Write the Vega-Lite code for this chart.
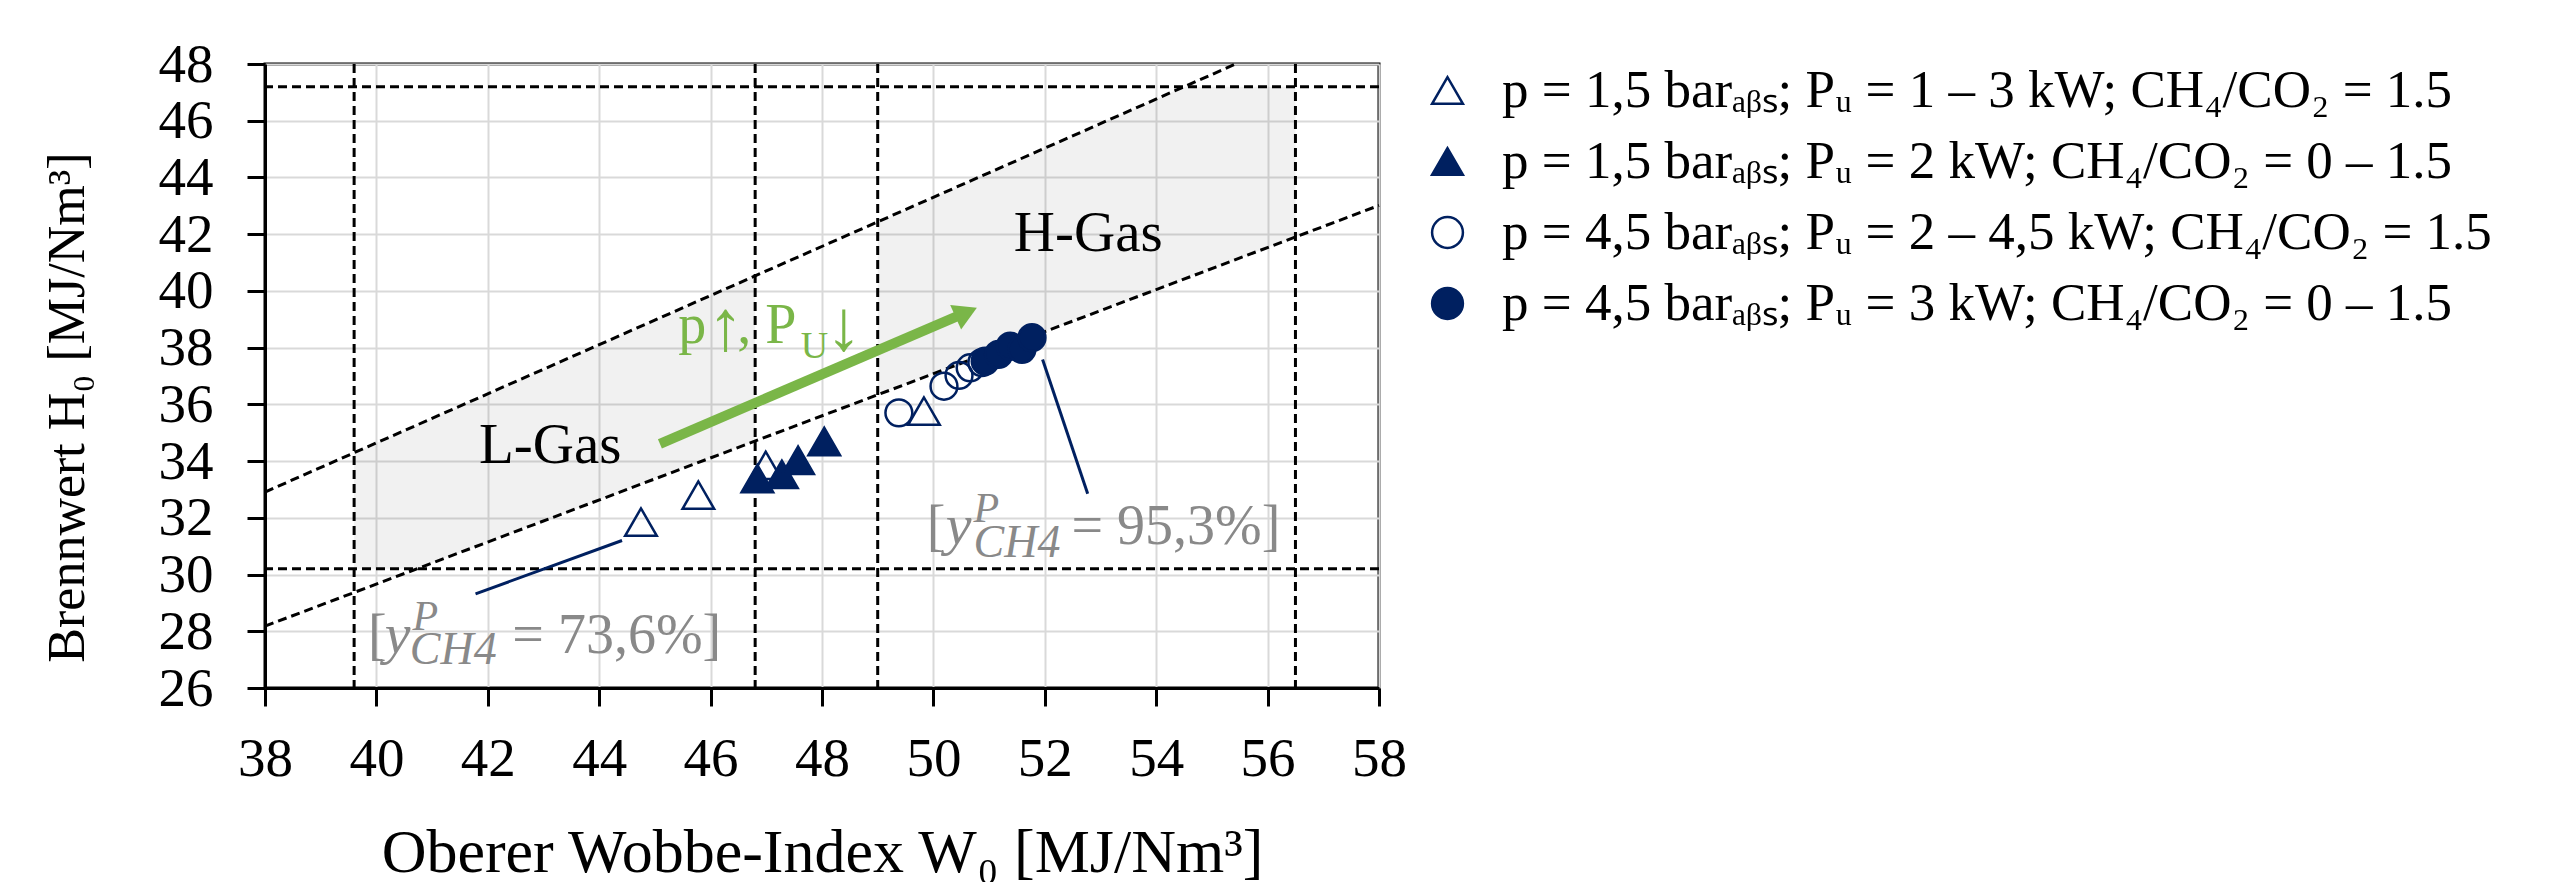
{
  "$schema": "https://vega.github.io/schema/vega-lite/v6.json",
  "width": 1114,
  "height": 624,
  "autosize": {"type": "none"},
  "padding": {"left": 265, "top": 64, "right": 1189, "bottom": 194},
  "background": "white",
  "config": {
    "view": {"stroke": "black", "strokeWidth": 3},
    "font": "Liberation Serif",
    "axis": {"labelFont": "Liberation Serif", "titleFont": "Liberation Serif", "labelColor": "black", "titleColor": "black", "titleFontWeight": "normal", "domainColor": "black", "domainWidth": 3, "tickColor": "black", "tickWidth": 3, "tickSize": 18, "gridColor": "#d9d9d9", "gridWidth": 2, "labelFlush": false, "labelOverlap": false},
    "axisX": {"tickCount": 10, "labelFontSize": 55, "labelPadding": 26, "titleFontSize": 62, "titlePadding": 36},
    "axisY": {"tickCount": 11, "labelFontSize": 55, "labelPadding": 34, "titleFontSize": 52, "titlePadding": 64, "titleY": 343},
    "legend": {"orient": "right", "offset": 42, "padding": 0, "labelFont": "Liberation Serif", "labelFontSize": 53, "labelColor": "black", "labelLimit": 0, "labelOffset": 28, "rowPadding": 17, "symbolSize": 950, "symbolStrokeWidth": 2.5}
  },
  "datasets": {
    "zones": [
      {"zone": "L", "W": 39.6, "H": 30.2, "H2": 34.29},
      {"zone": "L", "W": 40.72, "H": 30.2, "H2": 35.26},
      {"zone": "L", "W": 46.8, "H": 34.71, "H2": 40.53},
      {"zone": "H", "W": 49.0, "H": 36.34, "H2": 42.43},
      {"zone": "H", "W": 54.5, "H": 40.42, "H2": 47.2},
      {"zone": "H", "W": 56.5, "H": 41.9, "H2": 47.2}
    ],
    "vlines": [{"W": 39.6}, {"W": 46.8}, {"W": 49.0}, {"W": 56.5}],
    "hlines": [{"H": 30.2}, {"H": 47.2}],
    "diag": [
      {"W": 38, "H": 32.909, "W2": 55.426, "H2": 48},
      {"W": 38, "H": 28.181, "W2": 58, "H2": 43.013}
    ],
    "leaders": [
      {"W": 41.78, "H": 29.32, "W2": 44.41, "H2": 31.2},
      {"W": 51.96, "H": 37.58, "W2": 52.77, "H2": 32.85}
    ],
    "arrow": [{"W": 45.09, "H": 34.61, "W2": 50.59, "H2": 39.24}],
    "arrowhead": [{"W": 50.59, "H": 39.24}],
    "points": [
      {"series": "p = 1,5 barₐᵦₛ; Pᵤ = 1 – 3 kW; CH₄/CO₂ = 1.5", "W": 44.75, "H": 31.85},
      {"series": "p = 1,5 barₐᵦₛ; Pᵤ = 1 – 3 kW; CH₄/CO₂ = 1.5", "W": 45.78, "H": 32.8},
      {"series": "p = 1,5 barₐᵦₛ; Pᵤ = 1 – 3 kW; CH₄/CO₂ = 1.5", "W": 46.99, "H": 33.85},
      {"series": "p = 1,5 barₐᵦₛ; Pᵤ = 1 – 3 kW; CH₄/CO₂ = 1.5", "W": 49.83, "H": 35.76},
      {"series": "p = 1,5 barₐᵦₛ; Pᵤ = 2 kW; CH₄/CO₂ = 0 – 1.5", "W": 46.84, "H": 33.38},
      {"series": "p = 1,5 barₐᵦₛ; Pᵤ = 2 kW; CH₄/CO₂ = 0 – 1.5", "W": 47.28, "H": 33.53},
      {"series": "p = 1,5 barₐᵦₛ; Pᵤ = 2 kW; CH₄/CO₂ = 0 – 1.5", "W": 47.57, "H": 34.03},
      {"series": "p = 1,5 barₐᵦₛ; Pᵤ = 2 kW; CH₄/CO₂ = 0 – 1.5", "W": 48.04, "H": 34.69},
      {"series": "p = 4,5 barₐᵦₛ; Pᵤ = 2 – 4,5 kW; CH₄/CO₂ = 1.5", "W": 49.38, "H": 35.7},
      {"series": "p = 4,5 barₐᵦₛ; Pᵤ = 2 – 4,5 kW; CH₄/CO₂ = 1.5", "W": 50.19, "H": 36.64},
      {"series": "p = 4,5 barₐᵦₛ; Pᵤ = 2 – 4,5 kW; CH₄/CO₂ = 1.5", "W": 50.46, "H": 37.02},
      {"series": "p = 4,5 barₐᵦₛ; Pᵤ = 2 – 4,5 kW; CH₄/CO₂ = 1.5", "W": 50.66, "H": 37.29},
      {"series": "p = 4,5 barₐᵦₛ; Pᵤ = 2 – 4,5 kW; CH₄/CO₂ = 1.5", "W": 50.87, "H": 37.47},
      {"series": "p = 4,5 barₐᵦₛ; Pᵤ = 3 kW; CH₄/CO₂ = 0 – 1.5", "W": 50.93, "H": 37.52},
      {"series": "p = 4,5 barₐᵦₛ; Pᵤ = 3 kW; CH₄/CO₂ = 0 – 1.5", "W": 51.17, "H": 37.76},
      {"series": "p = 4,5 barₐᵦₛ; Pᵤ = 3 kW; CH₄/CO₂ = 0 – 1.5", "W": 51.38, "H": 38.05},
      {"series": "p = 4,5 barₐᵦₛ; Pᵤ = 3 kW; CH₄/CO₂ = 0 – 1.5", "W": 51.59, "H": 37.94},
      {"series": "p = 4,5 barₐᵦₛ; Pᵤ = 3 kW; CH₄/CO₂ = 0 – 1.5", "W": 51.77, "H": 38.35}
    ],
    "gasLabels": [
      {"W": 43.12, "H": 33.92, "t": "L-Gas"},
      {"W": 52.78, "H": 41.41, "t": "H-Gas"}
    ],
    "greenMain": [
      {"W": 45.42, "H": 38.15, "t": "p"},
      {"W": 46.48, "H": 38.15, "t": ", P"}
    ],
    "greenArrows": [
      {"W": 45.95, "H": 37.9, "t": "↑"},
      {"W": 48.07, "H": 37.9, "t": "↓"}
    ],
    "greenSub": [{"W": 47.62, "H": 37.65, "t": "U"}],
    "grayUpright": [
      {"W": 39.85, "H": 27.25, "t": "["},
      {"W": 42.44, "H": 27.25, "t": "= 73,6%]"},
      {"W": 49.88, "H": 31.06, "t": "["},
      {"W": 52.48, "H": 31.06, "t": "= 95,3%]"}
    ],
    "grayItalic": [
      {"W": 40.15, "H": 27.25, "t": "y"},
      {"W": 50.22, "H": 31.06, "t": "y"}
    ],
    "graySup": [
      {"W": 40.65, "H": 28.06, "t": "P"},
      {"W": 50.72, "H": 31.87, "t": "P"}
    ],
    "graySub": [
      {"W": 40.6, "H": 26.83, "t": "CH4"},
      {"W": 50.72, "H": 30.63, "t": "CH4"}
    ]
  },
  "layer": [
    {
      "data": {"name": "zones"},
      "mark": {"type": "area", "fill": "black", "fillOpacity": 0.055},
      "encoding": {
        "x": {"field": "W", "type": "quantitative", "scale": {"domain": [38, 58], "nice": false, "zero": false}, "title": "Oberer Wobbe-Index W₀ [MJ/Nm³]"},
        "y": {"field": "H", "type": "quantitative", "scale": {"domain": [26, 48], "nice": false, "zero": false}, "title": "Brennwert H₀ [MJ/Nm³]"},
        "y2": {"field": "H2"},
        "detail": {"field": "zone", "type": "nominal"}
      }
    },
    {
      "data": {"name": "vlines"},
      "mark": {"type": "rule", "color": "black", "strokeWidth": 3, "strokeDash": [9, 5]},
      "encoding": {
        "x": {"field": "W", "type": "quantitative", "title": "Oberer Wobbe-Index W₀ [MJ/Nm³]"}
      }
    },
    {
      "data": {"name": "hlines"},
      "mark": {"type": "rule", "color": "black", "strokeWidth": 3, "strokeDash": [9, 5]},
      "encoding": {
        "y": {"field": "H", "type": "quantitative", "title": "Brennwert H₀ [MJ/Nm³]"}
      }
    },
    {
      "data": {"name": "diag"},
      "mark": {"type": "rule", "color": "black", "strokeWidth": 3, "strokeDash": [9, 5]},
      "encoding": {
        "x": {"field": "W", "type": "quantitative", "title": "Oberer Wobbe-Index W₀ [MJ/Nm³]"},
        "y": {"field": "H", "type": "quantitative", "title": "Brennwert H₀ [MJ/Nm³]"},
        "x2": {"field": "W2"},
        "y2": {"field": "H2"}
      }
    },
    {
      "data": {"name": "leaders"},
      "mark": {"type": "rule", "color": "#002060", "strokeWidth": 3},
      "encoding": {
        "x": {"field": "W", "type": "quantitative", "title": "Oberer Wobbe-Index W₀ [MJ/Nm³]"},
        "y": {"field": "H", "type": "quantitative", "title": "Brennwert H₀ [MJ/Nm³]"},
        "x2": {"field": "W2"},
        "y2": {"field": "H2"}
      }
    },
    {
      "data": {"name": "arrow"},
      "mark": {"type": "rule", "color": "#7ab648", "strokeWidth": 10, "strokeCap": "butt"},
      "encoding": {
        "x": {"field": "W", "type": "quantitative", "title": "Oberer Wobbe-Index W₀ [MJ/Nm³]"},
        "y": {"field": "H", "type": "quantitative", "title": "Brennwert H₀ [MJ/Nm³]"},
        "x2": {"field": "W2"},
        "y2": {"field": "H2"}
      }
    },
    {
      "data": {"name": "arrowhead"},
      "mark": {"type": "point", "shape": "triangle-up", "filled": true, "fill": "#7ab648", "strokeWidth": 0, "opacity": 1, "size": 720, "angle": 66},
      "encoding": {
        "x": {"field": "W", "type": "quantitative", "title": "Oberer Wobbe-Index W₀ [MJ/Nm³]"},
        "y": {"field": "H", "type": "quantitative", "title": "Brennwert H₀ [MJ/Nm³]"}
      }
    },
    {
      "data": {"name": "points"},
      "mark": {"type": "point", "filled": true, "strokeWidth": 2.5, "opacity": 1},
      "encoding": {
        "x": {"field": "W", "type": "quantitative", "title": "Oberer Wobbe-Index W₀ [MJ/Nm³]"},
        "y": {"field": "H", "type": "quantitative", "title": "Brennwert H₀ [MJ/Nm³]"},
        "shape": {"field": "series", "type": "nominal", "scale": {"domain": ["p = 1,5 barₐᵦₛ; Pᵤ = 1 – 3 kW; CH₄/CO₂ = 1.5", "p = 1,5 barₐᵦₛ; Pᵤ = 2 kW; CH₄/CO₂ = 0 – 1.5", "p = 4,5 barₐᵦₛ; Pᵤ = 2 – 4,5 kW; CH₄/CO₂ = 1.5", "p = 4,5 barₐᵦₛ; Pᵤ = 3 kW; CH₄/CO₂ = 0 – 1.5"], "range": ["triangle-up", "triangle-up", "circle", "circle"]}, "legend": {"title": null}},
        "fill": {"field": "series", "type": "nominal", "scale": {"domain": ["p = 1,5 barₐᵦₛ; Pᵤ = 1 – 3 kW; CH₄/CO₂ = 1.5", "p = 1,5 barₐᵦₛ; Pᵤ = 2 kW; CH₄/CO₂ = 0 – 1.5", "p = 4,5 barₐᵦₛ; Pᵤ = 2 – 4,5 kW; CH₄/CO₂ = 1.5", "p = 4,5 barₐᵦₛ; Pᵤ = 3 kW; CH₄/CO₂ = 0 – 1.5"], "range": ["transparent", "#002060", "transparent", "#002060"]}, "legend": {"title": null}},
        "stroke": {"field": "series", "type": "nominal", "scale": {"domain": ["p = 1,5 barₐᵦₛ; Pᵤ = 1 – 3 kW; CH₄/CO₂ = 1.5", "p = 1,5 barₐᵦₛ; Pᵤ = 2 kW; CH₄/CO₂ = 0 – 1.5", "p = 4,5 barₐᵦₛ; Pᵤ = 2 – 4,5 kW; CH₄/CO₂ = 1.5", "p = 4,5 barₐᵦₛ; Pᵤ = 3 kW; CH₄/CO₂ = 0 – 1.5"], "range": ["#002060", "#002060", "#002060", "#002060"]}, "legend": {"title": null}},
        "size": {"condition": {"test": "indexof(datum.series, 'p = 4,5') >= 0", "value": 720}, "value": 1000}
      }
    },
    {
      "data": {"name": "gasLabels"},
      "mark": {"type": "text", "font": "Liberation Serif", "fontSize": 57, "color": "black", "align": "center", "baseline": "alphabetic"},
      "encoding": {
        "x": {"field": "W", "type": "quantitative", "title": "Oberer Wobbe-Index W₀ [MJ/Nm³]"},
        "y": {"field": "H", "type": "quantitative", "title": "Brennwert H₀ [MJ/Nm³]"},
        "text": {"field": "t"}
      }
    },
    {
      "data": {"name": "greenMain"},
      "mark": {"type": "text", "font": "Liberation Serif", "fontSize": 56, "color": "#7ab648", "align": "left", "baseline": "alphabetic"},
      "encoding": {
        "x": {"field": "W", "type": "quantitative", "title": "Oberer Wobbe-Index W₀ [MJ/Nm³]"},
        "y": {"field": "H", "type": "quantitative", "title": "Brennwert H₀ [MJ/Nm³]"},
        "text": {"field": "t"}
      }
    },
    {
      "data": {"name": "greenArrows"},
      "mark": {"type": "text", "font": "Liberation Serif", "fontSize": 72, "color": "#7ab648", "align": "left", "baseline": "alphabetic"},
      "encoding": {
        "x": {"field": "W", "type": "quantitative", "title": "Oberer Wobbe-Index W₀ [MJ/Nm³]"},
        "y": {"field": "H", "type": "quantitative", "title": "Brennwert H₀ [MJ/Nm³]"},
        "text": {"field": "t"}
      }
    },
    {
      "data": {"name": "greenSub"},
      "mark": {"type": "text", "font": "Liberation Serif", "fontSize": 38, "color": "#7ab648", "align": "left", "baseline": "alphabetic"},
      "encoding": {
        "x": {"field": "W", "type": "quantitative", "title": "Oberer Wobbe-Index W₀ [MJ/Nm³]"},
        "y": {"field": "H", "type": "quantitative", "title": "Brennwert H₀ [MJ/Nm³]"},
        "text": {"field": "t"}
      }
    },
    {
      "data": {"name": "grayUpright"},
      "mark": {"type": "text", "font": "Liberation Serif", "fontSize": 56, "color": "#898989", "align": "left", "baseline": "alphabetic"},
      "encoding": {
        "x": {"field": "W", "type": "quantitative", "title": "Oberer Wobbe-Index W₀ [MJ/Nm³]"},
        "y": {"field": "H", "type": "quantitative", "title": "Brennwert H₀ [MJ/Nm³]"},
        "text": {"field": "t"}
      }
    },
    {
      "data": {"name": "grayItalic"},
      "mark": {"type": "text", "font": "Liberation Serif", "fontStyle": "italic", "fontSize": 58, "color": "#898989", "align": "left", "baseline": "alphabetic"},
      "encoding": {
        "x": {"field": "W", "type": "quantitative", "title": "Oberer Wobbe-Index W₀ [MJ/Nm³]"},
        "y": {"field": "H", "type": "quantitative", "title": "Brennwert H₀ [MJ/Nm³]"},
        "text": {"field": "t"}
      }
    },
    {
      "data": {"name": "graySup"},
      "mark": {"type": "text", "font": "Liberation Serif", "fontStyle": "italic", "fontSize": 42, "color": "#898989", "align": "left", "baseline": "alphabetic"},
      "encoding": {
        "x": {"field": "W", "type": "quantitative", "title": "Oberer Wobbe-Index W₀ [MJ/Nm³]"},
        "y": {"field": "H", "type": "quantitative", "title": "Brennwert H₀ [MJ/Nm³]"},
        "text": {"field": "t"}
      }
    },
    {
      "data": {"name": "graySub"},
      "mark": {"type": "text", "font": "Liberation Serif", "fontStyle": "italic", "fontSize": 46, "color": "#898989", "align": "left", "baseline": "alphabetic"},
      "encoding": {
        "x": {"field": "W", "type": "quantitative", "title": "Oberer Wobbe-Index W₀ [MJ/Nm³]"},
        "y": {"field": "H", "type": "quantitative", "title": "Brennwert H₀ [MJ/Nm³]"},
        "text": {"field": "t"}
      }
    }
  ]
}
